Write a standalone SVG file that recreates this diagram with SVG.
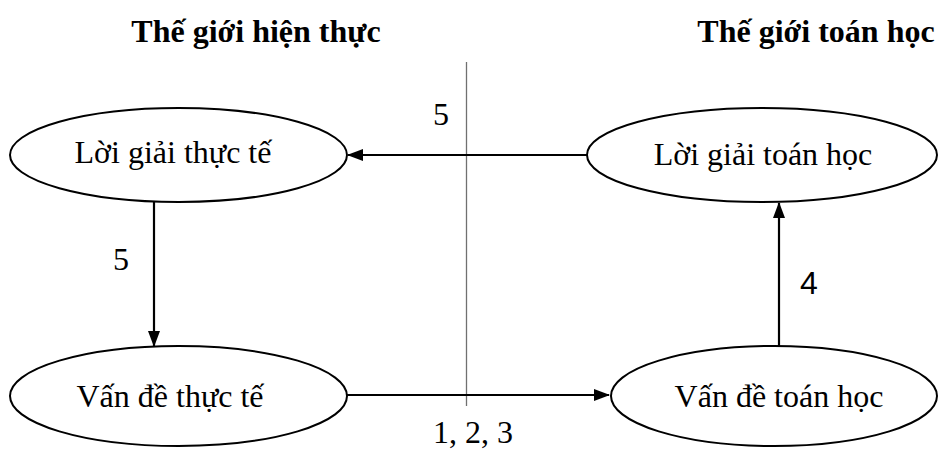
<svg xmlns="http://www.w3.org/2000/svg" width="938" height="452" viewBox="0 0 938 452">
<style>
.t{font-family:"Liberation Serif","Times New Roman",serif;font-size:32px;fill:#000}
.b{font-weight:bold}
.s{font-family:"Liberation Sans",Arial,sans-serif;font-size:32px;fill:#000}
.n ellipse{fill:#fff;stroke:#000;stroke-width:2}
.c line{stroke:#000;stroke-width:2.2}
</style>
<defs>
<marker id="ah" markerWidth="16" markerHeight="12" refX="15" refY="6" orient="auto" markerUnits="userSpaceOnUse">
<path d="M0,0 L16,6 L0,12 z" fill="#000"/>
</marker>
</defs>
<rect width="938" height="452" fill="#fff"/>
<text class="t b" x="256" y="42" text-anchor="middle">Thế giới hiện thực</text>
<text class="t b" x="816" y="42" text-anchor="middle">Thế giới toán học</text>
<line x1="466.5" y1="62" x2="466.5" y2="406" stroke="#707070" stroke-width="1.3"/>
<g id="connectors" class="c">
<line x1="587" y1="155" x2="348" y2="155" marker-end="url(#ah)"/>
<line x1="154" y1="202" x2="154" y2="346" marker-end="url(#ah)"/>
<line x1="347" y1="395" x2="609" y2="395" marker-end="url(#ah)"/>
<line x1="779" y1="347" x2="779" y2="203" marker-end="url(#ah)"/>
</g>
<g id="n1" class="n">
<ellipse cx="178.5" cy="155" rx="168.5" ry="47"/>
<text class="t" x="173" y="163" text-anchor="middle">Lời giải thực tế</text>
</g>
<g id="n2" class="n">
<ellipse cx="762" cy="155" rx="175" ry="47"/>
<text class="t" x="763" y="165" text-anchor="middle">Lời giải toán học</text>
</g>
<g id="n3" class="n">
<ellipse cx="178.5" cy="396" rx="168.5" ry="50"/>
<text class="t" x="170" y="407" text-anchor="middle">Vấn đề thực tế</text>
</g>
<g id="n4" class="n">
<ellipse cx="774" cy="396" rx="163" ry="50"/>
<text class="t" x="779" y="407" text-anchor="middle">Vấn đề toán học</text>
</g>
<text class="t" x="441" y="125" text-anchor="middle">5</text>
<text class="t" x="121" y="270" text-anchor="middle">5</text>
<text class="s" x="809" y="294" text-anchor="middle">4</text>
<text class="t" x="473" y="443" text-anchor="middle">1, 2, 3</text>
</svg>
